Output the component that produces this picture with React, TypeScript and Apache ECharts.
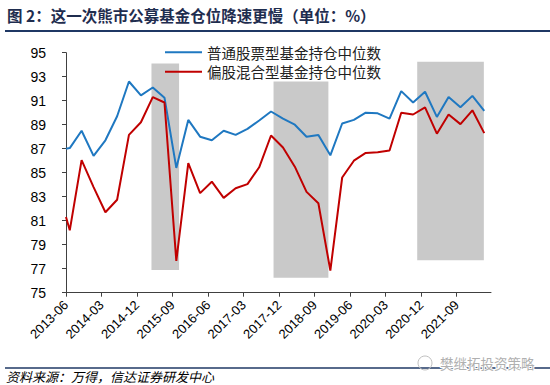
import React, { useEffect, useRef } from "react";
import * as echarts from "echarts";

// Quarter-end observation dates (first point sits at the axis origin)
const dates = [
  "2013-06-01", "2013-06-30", "2013-09-30", "2013-12-31", "2014-03-31", "2014-06-30",
  "2014-09-30", "2014-12-31", "2015-03-31", "2015-06-30", "2015-09-30", "2015-12-31",
  "2016-03-31", "2016-06-30", "2016-09-30", "2016-12-31", "2017-03-31", "2017-06-30",
  "2017-09-30", "2017-12-31", "2018-03-31", "2018-06-30", "2018-09-30", "2018-12-31",
  "2019-03-31", "2019-06-30", "2019-09-30", "2019-12-31", "2020-03-31", "2020-06-30",
  "2020-09-30", "2020-12-31", "2021-03-31", "2021-06-30", "2021-09-30", "2021-12-31",
  "2022-03-31",
];

const stockFund = [
  87.0, 87.05, 88.5, 86.4, 87.7, 89.7, 92.6, 91.45, 92.1, 91.25, 85.4, 89.4,
  88.0, 87.7, 88.5, 88.15, 88.65, 89.35, 90.1, 89.5, 89.0, 88.0, 88.15, 86.45,
  89.1, 89.4, 90.0, 89.95, 89.5, 91.8, 90.85, 91.75, 89.65, 91.3, 90.45, 91.4,
  90.15,
];

const mixedFund = [
  81.3, 80.2, 86.05, 83.8, 81.7, 82.75, 88.15, 89.2, 91.3, 90.85, 77.65, 85.8,
  83.3, 84.25, 82.9, 83.7, 84.05, 85.45, 88.1, 87.1, 85.5, 83.4, 82.45, 76.85,
  84.6, 86.0, 86.65, 86.7, 86.85, 90.0, 89.85, 90.45, 88.25, 89.85, 89.05, 90.2,
  88.3,
];

const tickLabels = [
  "2013-06", "2014-03", "2014-12", "2015-09", "2016-06", "2017-03",
  "2017-12", "2018-09", "2019-06", "2020-03", "2020-12", "2021-09",
];

// Shaded bear-market periods
const shadeStart = ["2015-03-21", "2017-10-19", "2020-11-01"];
const shadeEnd = ["2015-10-21", "2018-12-16", "2022-03-28"];
const shadeLow = [76.9, 76.25, 77.7];
const shadeHigh = [94.1, 92.6, 94.25];

const seriesNames = ["普通股票型基金持仓中位数", "偏股混合型基金持仓中位数"];

const toMonth = (d: string) => {
  const [y, m, dd] = d.split("-").map(Number);
  return (y - 2013) * 12 + (m - 6) + ((dd || 1) - 1) / 30.4;
};

const tickValues = tickLabels.map((l) => toMonth(l + "-01"));

export default function App() {
  const ref = useRef<HTMLDivElement>(null);

  useEffect(() => {
    if (!ref.current) return;
    const chart = echarts.init(ref.current, undefined, { renderer: "svg" });
    const axisFont = "'Liberation Sans', Arial, sans-serif";
    const cjk = "'Noto Sans CJK SC', 'Noto Sans', sans-serif";

    const option: any = {
      animation: false,
      backgroundColor: "#ffffff",
      grid: { left: 66, right: 59, top: 52.7, bottom: 92.3, containLabel: false },
      legend: {
        data: seriesNames,
        orient: "vertical",
        left: 160,
        top: 40,
        itemWidth: 37,
        itemHeight: 2,
        itemGap: 5,
        icon: "rect",
        textStyle: { fontSize: 14.5, color: "#222", fontFamily: cjk },
      },
      xAxis: {
        type: "value",
        min: 0,
        max: 107.7,
        interval: 9,
        splitLine: { show: false },
        axisLine: { show: true, lineStyle: { color: "#404040", width: 1 } },
        axisTick: { show: true, length: 4, lineStyle: { color: "#404040" }, customValues: tickValues },
        axisLabel: {
          customValues: tickValues,
          rotate: 45,
          margin: 10,
          fontSize: 13,
          color: "#000",
          fontFamily: axisFont,
          formatter: (v: number) => {
            const i = tickValues.findIndex((t) => Math.abs(t - v) < 0.01);
            return i >= 0 ? tickLabels[i] : "";
          },
        },
      },
      yAxis: {
        type: "value",
        min: 75,
        max: 95,
        interval: 2,
        splitLine: { show: false },
        axisLine: { show: true, lineStyle: { color: "#404040", width: 1 } },
        axisTick: { show: true, length: 4, lineStyle: { color: "#404040" } },
        axisLabel: { fontSize: 14, color: "#000", fontFamily: axisFont, margin: 20 },
      },
      series: [
        {
          type: "custom",
          name: "shade",
          z: 1,
          silent: true,
          encode: { x: [0, 1], y: [2, 3] },
          data: shadeStart.map((s, i) => [toMonth(s), toMonth(shadeEnd[i]), shadeLow[i], shadeHigh[i]]),
          renderItem: (_params: any, api: any) => {
            const p0 = api.coord([api.value(0), api.value(3)]);
            const p1 = api.coord([api.value(1), api.value(2)]);
            return {
              type: "rect",
              shape: { x: p0[0], y: p0[1], width: p1[0] - p0[0], height: p1[1] - p0[1] },
              style: { fill: "#C9C9C9" },
            };
          },
        },
        {
          type: "line",
          name: seriesNames[0],
          z: 3,
          showSymbol: false,
          color: "#1F78C1",
          lineStyle: { width: 2, color: "#1F78C1" },
          data: dates.map((d, i) => [toMonth(d), stockFund[i]]),
        },
        {
          type: "line",
          name: seriesNames[1],
          z: 3,
          showSymbol: false,
          color: "#C00000",
          lineStyle: { width: 2, color: "#C00000" },
          data: dates.map((d, i) => [toMonth(d), mixedFund[i]]),
        },
      ],
      graphic: [
        {
          type: "text",
          x: 7,
          y: 15,
          style: {
            text: "图 2：这一次熊市公募基金仓位降速更慢（单位：%）",
            fontSize: 15.5,
            fontWeight: "bold",
            fill: "#1F2D4F",
            fontFamily: cjk,
            verticalAlign: "middle",
          },
        },
        {
          type: "line",
          shape: { x1: 5, y1: 31, x2: 550, y2: 31 },
          style: { stroke: "#1F3864", lineWidth: 2 },
        },
        {
          type: "line",
          shape: { x1: 5, y1: 368, x2: 550, y2: 368 },
          style: { stroke: "#1F3864", lineWidth: 1.5 },
        },
        {
          type: "text",
          x: 440,
          y: 363,
          style: {
            text: "樊继拓投资策略",
            fontSize: 13.5,
            fill: "#b0b0b0",
            stroke: "#ffffff",
            lineWidth: 2,
            fontFamily: cjk,
            verticalAlign: "middle",
          },
        },
        {
          type: "circle",
          shape: { cx: 425, cy: 363, r: 7 },
          style: { fill: "none", stroke: "#c0c0c0", lineWidth: 1 },
        },
        {
          type: "text",
          x: 6,
          y: 376,
          style: {
            text: "资料来源：万得，信达证券研发中心",
            fontSize: 13,
            fontStyle: "italic",
            fill: "#000",
            fontFamily: cjk,
            verticalAlign: "middle",
          },
        },
      ],
    };

    chart.setOption(option);
    return () => chart.dispose();
  }, []);

  return (
    <div
      ref={ref}
      style={{ position: "fixed", left: 0, top: 0, width: 550, height: 385, background: "#fff" }}
    />
  );
}
